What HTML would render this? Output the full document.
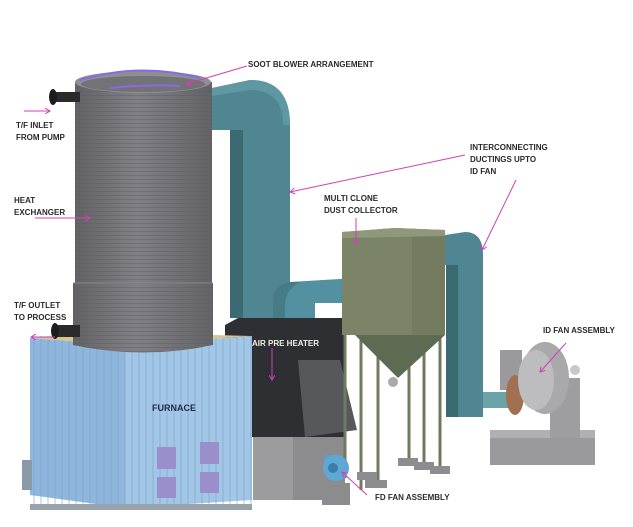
<!DOCTYPE html>
<html><head><meta charset="utf-8"><style>
html,body{margin:0;padding:0;background:#fff;}
svg{display:block;}
text{font-family:"Liberation Sans",sans-serif;font-weight:bold;font-size:8px;fill:#2a2a2a;}
</style></head><body>
<svg width="633" height="527" viewBox="0 0 633 527" xmlns="http://www.w3.org/2000/svg">
<defs>
<linearGradient id="cyl" x1="0" x2="1">
<stop offset="0" stop-color="#626266"/><stop offset="0.45" stop-color="#808086"/><stop offset="1" stop-color="#636367"/></linearGradient>
<pattern id="ribs" width="4" height="4" patternUnits="userSpaceOnUse"><line x1="0" y1="3.5" x2="4" y2="3.5" stroke="#5c5c60" stroke-width="0.6" opacity="0.7"/></pattern>
<pattern id="strp" width="7" height="7" patternUnits="userSpaceOnUse"><line x1="6" y1="0" x2="6" y2="7" stroke="#7aa2c8" stroke-width="1"/></pattern>
<marker id="ah" markerWidth="6" markerHeight="6" refX="5" refY="3" orient="auto"><path d="M0,0 L5,3 L0,6" fill="none" stroke="#d040b8" stroke-width="1"/></marker>
</defs>

<!-- big duct -->
<path d="M212,88 L250,80 Q290,80 290,125 L290,318 L230,318 L230,130 L212,130 Z" fill="#4f8691"/>
<path d="M230,130 L243,130 L243,318 L230,318 Z" fill="#3b6a73"/>
<path d="M212,88 L250,80 Q290,80 290,125 L283,125 Q283,90 250,90 L212,96Z" fill="#5d98a3"/>
<!-- horizontal duct -->
<path d="M273,300 Q273,285 290,282 L373,277 L373,303 L315,303 L315,330 L273,330 Z" fill="#5390a0"/>
<path d="M273,300 Q273,285 290,282 L300,282 Q285,290 285,305 L285,330 L273,330Z" fill="#457c88"/>

<!-- APH -->
<path d="M225,325 L238,318 L345,318 L345,437 L225,437 Z" fill="#2e2f33"/>
<path d="M298,360 L340,360 L357,430 L305,437 Z" fill="#56585c"/>
<rect x="253" y="437" width="92" height="63" fill="#8c8c8e"/>
<rect x="253" y="437" width="40" height="63" fill="#9c9c9e"/>

<!-- multiclone legs -->
<g stroke="#6f7a5e" stroke-width="3">
<line x1="345" y1="300" x2="345" y2="478"/><line x1="361" y1="305" x2="361" y2="490"/>
<line x1="378" y1="305" x2="378" y2="480"/><line x1="409" y1="330" x2="409" y2="462"/>
<line x1="424" y1="330" x2="424" y2="465"/><line x1="440" y1="320" x2="440" y2="470"/>
</g>
<g fill="#8d8d8f"><rect x="357" y="472" width="20" height="8"/><rect x="365" y="480" width="22" height="8"/><rect x="398" y="458" width="20" height="8"/><rect x="414" y="462" width="20" height="8"/><rect x="430" y="466" width="20" height="8"/></g>
<!-- multiclone box -->
<path d="M342,232 L395,228 L445,230 L445,335 L342,335 Z" fill="#7b8466"/>
<rect x="412" y="236" width="33" height="99" fill="#737c5f"/>
<path d="M342,232 L395,228 L445,230 L445,236 L342,238Z" fill="#8f987a"/>
<path d="M355,335 L445,335 L398,378 Z" fill="#5f6a52"/>
<circle cx="393" cy="382" r="5" fill="#aaa"/>

<!-- ID duct -->
<path d="M445,235 L465,232 Q483,232 483,255 L483,417 L455,417 L455,265 L445,265 Z" fill="#4f8691"/>
<path d="M446,265 L458,265 L458,417 L446,417 Z" fill="#3b6a73"/>

<!-- ID fan -->
<rect x="490" y="430" width="105" height="35" fill="#9a9a9c"/>
<rect x="490" y="430" width="105" height="8" fill="#b0b0b2"/>
<rect x="500" y="350" width="22" height="40" fill="#9a9a9c"/>
<rect x="550" y="378" width="30" height="60" fill="#9e9ea0"/>
<rect x="483" y="392" width="30" height="16" fill="#6aa4a8"/>
<ellipse cx="515" cy="395" rx="9" ry="20" fill="#a07050"/>
<ellipse cx="545" cy="378" rx="24" ry="36" fill="#a9a9ab"/>
<ellipse cx="536" cy="380" rx="18" ry="30" fill="#bdbdbf"/>
<circle cx="575" cy="370" r="5" fill="#c8c8cc"/>

<!-- FD fan -->
<rect x="322" y="483" width="28" height="22" fill="#8c8c8e"/>
<rect x="324" y="455" width="16" height="15" fill="#5aa0c8"/>
<circle cx="336" cy="468" r="13" fill="#5fa8d6"/>
<circle cx="333" cy="468" r="5" fill="#3a7ea8"/>

<!-- furnace -->
<path d="M30,338 L125,345 L125,508 L30,495 Z" fill="#8fb6dc"/>
<path d="M125,345 L252,336 L252,500 L125,508 Z" fill="#a2c6e6"/>
<rect x="30" y="336" width="222" height="172" fill="url(#strp)" opacity="0.6"/>
<path d="M30,338 L100,332 L252,336 L125,345 Z" fill="#d9c48d"/>
<rect x="22" y="460" width="10" height="30" fill="#8a9aa8"/>
<g fill="#9a8ecb"><rect x="157" y="447" width="19" height="22"/><rect x="200" y="442" width="19" height="22"/><rect x="157" y="477" width="19" height="21"/><rect x="200" y="472" width="19" height="21"/></g>
<rect x="30" y="504" width="222" height="6" fill="#9aa2aa"/>

<!-- cylinder -->
<rect x="75" y="82" width="137" height="205" fill="url(#cyl)"/>
<rect x="75" y="82" width="137" height="205" fill="url(#ribs)"/>
<path d="M73,283 L213,283 L213,345 Q143,360 73,345 Z" fill="url(#cyl)"/>
<path d="M73,283 L213,283 L213,345 Q143,360 73,345 Z" fill="url(#ribs)"/>
<line x1="73" y1="283" x2="213" y2="283" stroke="#8a8a8e" stroke-width="1"/>
<ellipse cx="143" cy="82" rx="68" ry="11" fill="#8e8e94"/>
<ellipse cx="143" cy="84" rx="62" ry="8" fill="#727277"/>
<path d="M80,80 Q140,62 200,78" fill="none" stroke="#8a6ae0" stroke-width="2"/>
<path d="M110,88 Q150,84 180,86" fill="none" stroke="#8a6ae0" stroke-width="2"/>
<rect x="52" y="92" width="28" height="10" fill="#2a2a2c"/>
<ellipse cx="53" cy="97" rx="4" ry="8" fill="#1c1c1e"/>
<rect x="54" y="325" width="26" height="12" fill="#2a2a2c"/>
<ellipse cx="55" cy="331" rx="4" ry="8" fill="#1c1c1e"/>

<!-- labels & arrows -->
<g stroke="#d040b8" stroke-width="1" fill="none" marker-end="url(#ah)">
<line x1="247" y1="66" x2="186" y2="84"/>
<line x1="24" y1="111" x2="50" y2="111"/>
<line x1="35" y1="218" x2="90" y2="218"/>
<line x1="55" y1="337" x2="31" y2="337"/>
<line x1="272" y1="348" x2="272" y2="380"/>
<line x1="465" y1="155" x2="290" y2="192"/>
<line x1="516" y1="180" x2="482" y2="250"/>
<line x1="356" y1="218" x2="356" y2="244"/>
<line x1="566" y1="343" x2="540" y2="372"/>
<line x1="367" y1="495" x2="342" y2="472"/>
</g>
<text x="248" y="67">SOOT BLOWER ARRANGEMENT</text>
<text x="16" y="128">T/F INLET</text><text x="16" y="140">FROM PUMP</text>
<text x="14" y="203">HEAT</text><text x="14" y="215">EXCHANGER</text>
<text x="14" y="308">T/F  OUTLET</text><text x="14" y="320">TO PROCESS</text>
<text x="252" y="346" style="fill:#f0f0f0">AIR PRE HEATER</text>
<text x="152" y="411" style="font-size:9px;fill:#1e2a48">FURNACE</text>
<text x="470" y="150">INTERCONNECTING</text><text x="470" y="162">DUCTINGS UPTO</text><text x="470" y="174">ID FAN</text>
<text x="324" y="201">MULTI CLONE</text><text x="324" y="213">DUST COLLECTOR</text>
<text x="543" y="333">ID FAN ASSEMBLY</text>
<text x="375" y="500">FD FAN ASSEMBLY</text>
</svg>
</body></html>
